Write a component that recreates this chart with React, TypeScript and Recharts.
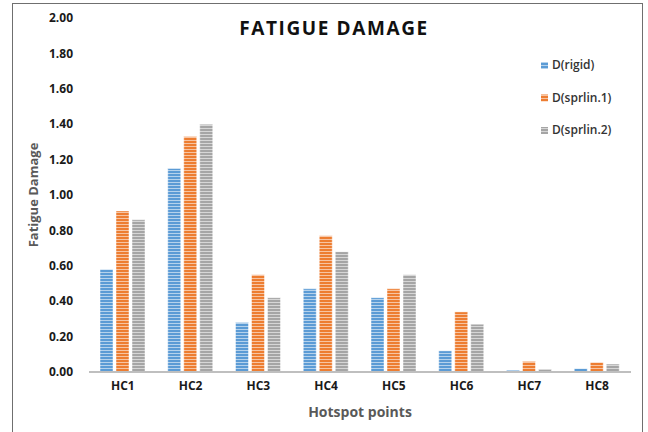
import { BarChart, Bar, XAxis, YAxis } from 'recharts'

const hotspots = ['HC1', 'HC2', 'HC3', 'HC4', 'HC5', 'HC6', 'HC7', 'HC8']
const rigid = [0.58, 1.15, 0.28, 0.47, 0.42, 0.12, 0.01, 0.02]
const sprlin1 = [0.91, 1.33, 0.55, 0.77, 0.47, 0.34, 0.06, 0.055]
const sprlin2 = [0.86, 1.4, 0.42, 0.68, 0.55, 0.27, 0.015, 0.045]
const yTicks = [0, 0.2, 0.4, 0.6, 0.8, 1.0, 1.2, 1.4, 1.6, 1.8, 2.0]

const seriesInfo = [
  { key: 'rigid', name: 'D(rigid)', color: '#5B9BD5' },
  { key: 'sprlin1', name: 'D(sprlin.1)', color: '#ED7D31' },
  { key: 'sprlin2', name: 'D(sprlin.2)', color: '#A5A5A5' },
]

const data = hotspots.map((h, i) => ({
  name: h,
  rigid: rigid[i],
  sprlin1: sprlin1[i],
  sprlin2: sprlin2[i],
}))

const font = "'Open Sans', 'Liberation Sans', sans-serif"

export default function App() {
  return (
    <div style={{ position: 'absolute', left: 0, top: 0, width: 648, height: 432, background: '#fff', fontFamily: font }}>
      <div style={{ position: 'absolute', left: 12, top: 3, width: 631, height: 440, border: '1.5px solid #6f6f6f', boxSizing: 'border-box' }} />
      <BarChart
        width={648}
        height={432}
        data={data}
        margin={{ top: 18, right: 17, bottom: 0, left: 0 }}
        barCategoryGap={11}
        barGap={3}
      >
        <defs>
          {seriesInfo.map((s) => (
            <pattern key={s.key} id={`stripe-${s.key}`} patternUnits="userSpaceOnUse" width={4} height={3}>
              <rect x={0} y={0} width={4} height={3} fill={s.color} />
              <rect x={0} y={2} width={4} height={1} fill="#fff" fillOpacity={0.55} />
            </pattern>
          ))}
        </defs>
        <XAxis
          dataKey="name"
          height={60}
          tickLine={false}
          tickMargin={3}
          axisLine={{ stroke: '#BFBFBF', strokeWidth: 2 }}
          tick={{ fill: '#1a1a1a', fontSize: 12, fontWeight: 700, fontFamily: font }}
        />
        <YAxis
          width={89}
          domain={[0, 2]}
          ticks={yTicks}
          axisLine={false}
          tickLine={false}
          tickMargin={10}
          tickFormatter={(v) => Number(v).toFixed(2)}
          tick={{ fill: '#1a1a1a', fontSize: 12, fontWeight: 700, fontFamily: font }}
        />
        {seriesInfo.map((s) => (
          <Bar
            key={s.key}
            dataKey={s.key}
            name={s.name}
            fill={`url(#stripe-${s.key})`}
            stroke="#ffffff"
            strokeOpacity={0.6}
            strokeWidth={0.8}
            isAnimationActive={false}
          />
        ))}
        <text x={334} y={35} textAnchor="middle" fontSize={19} fontWeight={700} letterSpacing={1.6} fill="#111" fontFamily={font}>
          FATIGUE DAMAGE
        </text>
        <text x={360} y={417} textAnchor="middle" fontSize={14} fontWeight={700} fill="#595959" fontFamily={font}>
          Hotspot points
        </text>
        <text
          x={38}
          y={195}
          textAnchor="middle"
          fontSize={13}
          fontWeight={700}
          fill="#595959"
          fontFamily={font}
          transform="rotate(-90 38 195)"
        >
          Fatigue Damage
        </text>
        {seriesInfo.map((s, i) => (
          <g key={s.key}>
            <rect x={541} y={62 + i * 32.5} width={7} height={7} fill={`url(#stripe-${s.key})`} />
            <text x={552} y={69 + i * 32.5} fontSize={12} fontWeight={600} fill="#333" fontFamily={font}>
              {s.name}
            </text>
          </g>
        ))}
      </BarChart>
    </div>
  )
}
